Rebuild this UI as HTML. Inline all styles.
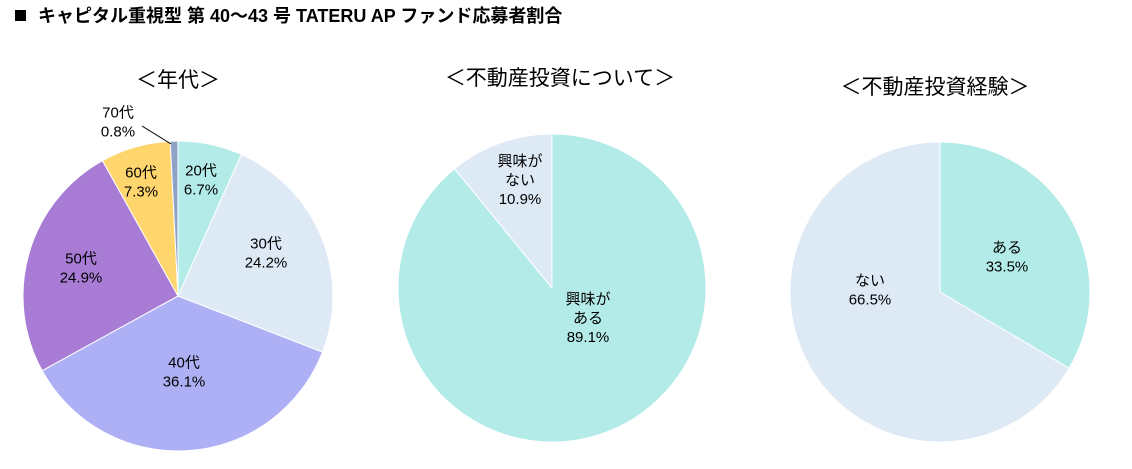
<!DOCTYPE html>
<html><head><meta charset="utf-8">
<style>
body{margin:0;background:#fff;width:1132px;height:464px;overflow:hidden;font-family:"Liberation Sans","Noto Sans CJK JP",sans-serif;}
svg text{font-family:"Liberation Sans","Noto Sans CJK JP",sans-serif;}
</style></head><body>
<svg id="c" width="1132" height="464">
<rect x="15" y="10" width="11" height="11" fill="#000"/>
<text x="38" y="22" font-size="18" font-weight="bold">キャピタル重視型  第 40〜43 号 TATERU AP ファンド応募者割合</text>
<text x="178" y="87" font-size="21" text-anchor="middle">＜年代＞</text>
<text x="560" y="85" font-size="21" text-anchor="middle">＜不動産投資について＞</text>
<text x="935" y="94" font-size="21" text-anchor="middle">＜不動産投資経験＞</text>
</svg>
<script>
const ageLabels=["20代","30代","40代","50代","60代","70代"];
const ageValues=[6.7,24.2,36.1,24.9,7.3,0.8];
const interestLabels=["興味が\nある","興味が\nない"];
const interestValues=[89.1,10.9];
const expLabels=["ある","ない"];
const expValues=[33.5,66.5];
const svg=document.getElementById('c');
const NS="http://www.w3.org/2000/svg";
function pie(name,cx,cy,r,labels,values,colors,labelR,overrides){
  const tot=values.reduce((a,b)=>a+b,0);let a0=0;
  values.forEach((v,i)=>{
    const a1=a0+v/tot*2*Math.PI;
    const p=t=>[cx+r*Math.sin(t),cy-r*Math.cos(t)];
    const [x0,y0]=p(a0),[x1,y1]=p(a1);
    const path=document.createElementNS(NS,'path');
    path.setAttribute('d',`M${cx},${cy}L${x0},${y0}A${r},${r} 0 ${a1-a0>Math.PI?1:0} 1 ${x1},${y1}Z`);
    path.setAttribute('fill',colors[i]);path.setAttribute('stroke','#fff');path.setAttribute('stroke-width','1');
    
    
    svg.appendChild(path);
    const am=(a0+a1)/2;
    let lx=cx+r*labelR*Math.sin(am),ly=cy-r*labelR*Math.cos(am);
    if(overrides&&overrides[i]){lx=overrides[i][0];ly=overrides[i][1];}
    const lines=(labels[i]+"\n"+v.toFixed(1)+"%").split("\n");
    const t=document.createElementNS(NS,'text');
    t.setAttribute('text-anchor','middle');t.setAttribute('font-size','15');
    
    
    lines.forEach((s,k)=>{const ts=document.createElementNS(NS,'tspan');ts.setAttribute('x',lx);ts.setAttribute('y',ly+(k-(lines.length-1)/2)*19+5);ts.textContent=s;t.appendChild(ts);});
    svg.appendChild(t);
    a0=a1;
  });
}
pie('age',178,296,155,ageLabels,ageValues,["#b3ebe8","#dde9f5","#adb0f5","#a87bd5","#ffd56e","#8fa3c8"],0.62,{0:[201,180],1:[266,253],2:[184,372],3:[81,268],4:[141,182],5:[118,122]});
const ln=document.createElementNS(NS,'path');
ln.setAttribute('d','M142,126L171,144');ln.setAttribute('stroke','#000');ln.setAttribute('fill','none');


svg.appendChild(ln);
pie('interest',552,288,154,interestLabels,interestValues,["#b3ebe8","#dde9f5"],0.55,{0:[588,318],1:[520,180]});
pie('experience',940,292,150,expLabels,expValues,["#b3ebe8","#dde9f5"],0.5,{0:[1007,257],1:[870,290]});
</script>
</body></html>
